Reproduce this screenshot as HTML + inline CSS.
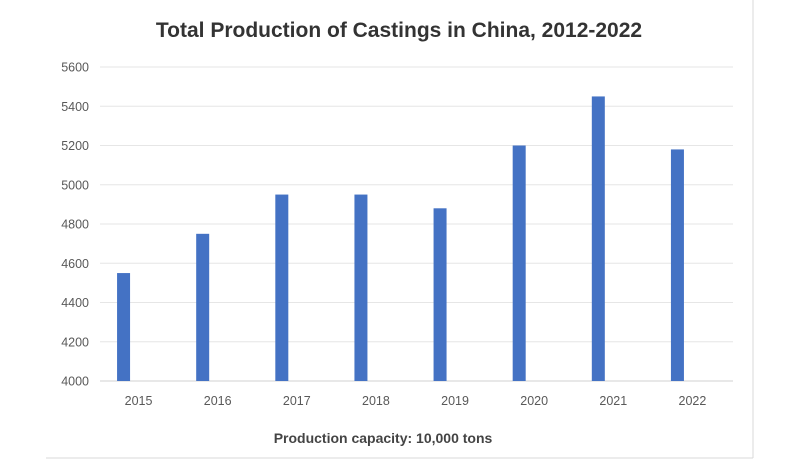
<!DOCTYPE html>
<html><head><meta charset="utf-8"><style>
body{margin:0;background:#fff;width:800px;height:460px;overflow:hidden;font-family:"Liberation Sans",sans-serif}
</style></head><body>
<svg width="800" height="460">
<line x1="46" y1="458" x2="753" y2="458" stroke="#d9d9d9"/>
<line x1="753" y1="0" x2="753" y2="458" stroke="#d9d9d9"/>
<text x="399" y="37" text-anchor="middle" font-size="21" font-weight="bold" fill="#333">Total Production of Castings in China, 2012-2022</text>
<g id="grid"></g><g id="bars"></g><g id="xl"></g>
<text x="383" y="443" text-anchor="middle" font-size="14" font-weight="bold" fill="#444">Production capacity: 10,000 tons</text>
</svg>
<script>
const categories=["2015","2016","2017","2018","2019","2020","2021","2022"];
const values=[4550,4750,4950,4950,4880,5200,5450,5180];
const ticks=[4000,4200,4400,4600,4800,5000,5200,5400,5600];
const NS="http://www.w3.org/2000/svg";
const L=100,R=733,T=67,B=381,ymin=4000,ymax=5600;
const y=v=>B-(v-ymin)/(ymax-ymin)*(B-T);
const cw=(R-L)/categories.length;
const x=i=>L+cw*(i+0.5);
const g=document.getElementById('grid'),bg=document.getElementById('bars'),xg=document.getElementById('xl');
ticks.forEach(t=>{
 const l=document.createElementNS(NS,'line');
 l.setAttribute('x1',L);l.setAttribute('x2',R);l.setAttribute('y1',y(t));l.setAttribute('y2',y(t));
 l.setAttribute('stroke',t===ymin?'#d0d0d0':'#e6e6e6');
 
 
 g.appendChild(l);
 const tx=document.createElementNS(NS,'text');
 tx.setAttribute('x',89);tx.setAttribute('y',y(t)+4.5);tx.setAttribute('text-anchor','end');
 tx.setAttribute('font-size','12.5');tx.setAttribute('fill','#595959');tx.textContent=t;
 
 
 g.appendChild(tx);
});
categories.forEach((c,i)=>{
 const r=document.createElementNS(NS,'rect');
 const bw=13;
 r.setAttribute('x',x(i)-16-bw/2);r.setAttribute('width',bw);
 r.setAttribute('y',y(values[i]));r.setAttribute('height',B-y(values[i]));
 r.setAttribute('fill','#4472c4');
 
 
 bg.appendChild(r);
 const tx=document.createElementNS(NS,'text');
 tx.setAttribute('x',x(i)-1);tx.setAttribute('y',405);tx.setAttribute('text-anchor','middle');
 tx.setAttribute('font-size','12.5');tx.setAttribute('fill','#595959');tx.textContent=c;
 
 
 xg.appendChild(tx);
});
</script>
</body></html>
